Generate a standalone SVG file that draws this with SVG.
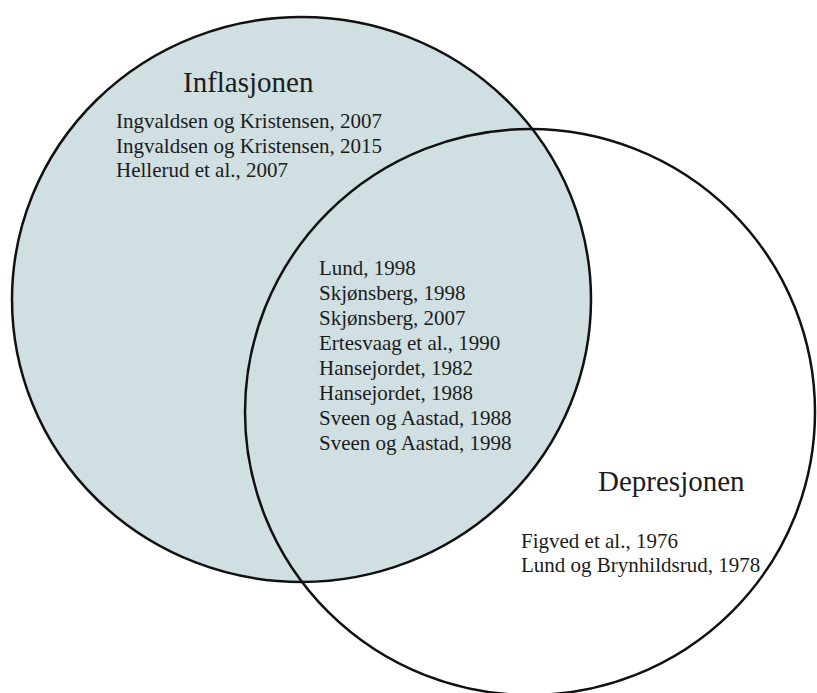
<svg xmlns="http://www.w3.org/2000/svg" width="817" height="693" viewBox="0 0 817 693">
  <style>
    .set { stroke: #111; stroke-width: 2.5; }
    .inf { fill: #d0dfe2; }
    .dep { fill: none; }
    text { font-family: "Liberation Serif", "Times New Roman", serif; fill: #1c1c1c; }
    .title { font-size: 29px; }
    .ref { font-size: 21px; }
  </style>
  <rect width="817" height="693" fill="#ffffff"/>

  <!-- set outlines -->
  <g id="set-shapes">
    <ellipse id="circle-inflasjonen" class="set inf" cx="301.5" cy="299.5" rx="289.5" ry="282.5"/>
    <ellipse id="circle-depresjonen" class="set dep" cx="530" cy="412" rx="285" ry="283"/>
  </g>

  <!-- Inflasjonen only -->
  <g id="inflasjonen">
    <text class="title" x="183" y="92">Inflasjonen</text>
    <text class="ref" x="116" y="128">Ingvaldsen og Kristensen, 2007</text>
    <text class="ref" x="116" y="152.5">Ingvaldsen og Kristensen, 2015</text>
    <text class="ref" x="116" y="177">Hellerud et al., 2007</text>
  </g>

  <!-- overlap of both sets -->
  <g id="overlap">
    <text class="ref" x="319" y="275">Lund, 1998</text>
    <text class="ref" x="319" y="300">Skjønsberg, 1998</text>
    <text class="ref" x="319" y="325">Skjønsberg, 2007</text>
    <text class="ref" x="319" y="350">Ertesvaag et al., 1990</text>
    <text class="ref" x="319" y="375">Hansejordet, 1982</text>
    <text class="ref" x="319" y="400">Hansejordet, 1988</text>
    <text class="ref" x="319" y="425">Sveen og Aastad, 1988</text>
    <text class="ref" x="319" y="450">Sveen og Aastad, 1998</text>
  </g>

  <!-- Depresjonen only -->
  <g id="depresjonen">
    <text class="title" x="598" y="491">Depresjonen</text>
    <text class="ref" x="521" y="548">Figved et al., 1976</text>
    <text class="ref" x="521" y="572">Lund og Brynhildsrud, 1978</text>
  </g>
</svg>
